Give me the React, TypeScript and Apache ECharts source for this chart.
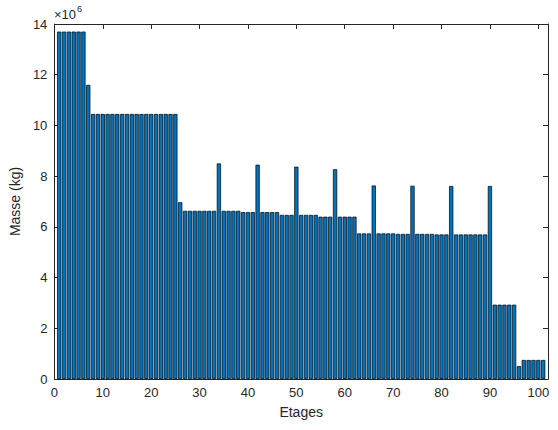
import React, { useEffect, useRef } from "react";
import * as echarts from "echarts";

// Etages (floors)
const floors = [
  1, 2, 3, 4, 5, 6, 7, 8, 9, 10, 11, 12, 13, 14, 15, 16, 17, 18, 19, 20,
  21, 22, 23, 24, 25, 26, 27, 28, 29, 30, 31, 32, 33, 34, 35, 36, 37, 38, 39, 40,
  41, 42, 43, 44, 45, 46, 47, 48, 49, 50, 51, 52, 53, 54, 55, 56, 57, 58, 59, 60,
  61, 62, 63, 64, 65, 66, 67, 68, 69, 70, 71, 72, 73, 74, 75, 76, 77, 78, 79, 80,
  81, 82, 83, 84, 85, 86, 87, 88, 89, 90, 91, 92, 93, 94, 95, 96, 97, 98, 99, 100,
  101,
];

// Masse (kg) per floor
const masses = [
  13.7e6, 13.7e6, 13.7e6, 13.7e6, 13.7e6, 13.7e6, // 1-6
  11.6e6, // 7
  10.45e6, 10.45e6, 10.45e6, 10.45e6, 10.45e6, 10.45e6, 10.45e6, 10.45e6, 10.45e6,
  10.45e6, 10.45e6, 10.45e6, 10.45e6, 10.45e6, 10.45e6, 10.45e6, 10.45e6, 10.45e6, // 8-25
  6.97e6, // 26
  6.63e6, 6.63e6, 6.63e6, 6.63e6, 6.63e6, 6.63e6, 6.63e6, // 27-33
  8.5e6, // 34
  6.63e6, 6.63e6, 6.63e6, 6.63e6, // 35-38
  6.58e6, 6.58e6, 6.58e6, // 39-41
  8.45e6, // 42
  6.58e6, 6.58e6, 6.58e6, 6.58e6, // 43-46
  6.47e6, 6.47e6, 6.47e6, // 47-49
  8.37e6, // 50
  6.47e6, 6.47e6, 6.47e6, 6.47e6, // 51-54
  6.4e6, 6.4e6, 6.4e6, // 55-57
  8.27e6, // 58
  6.4e6, 6.4e6, 6.4e6, 6.4e6, // 59-62
  5.74e6, 5.74e6, 5.74e6, // 63-65
  7.63e6, // 66
  5.74e6, 5.74e6, 5.74e6, 5.74e6, // 67-70
  5.72e6, 5.72e6, 5.72e6, // 71-73
  7.62e6, // 74
  5.72e6, 5.72e6, 5.72e6, 5.72e6, // 75-78
  5.7e6, 5.7e6, 5.7e6, // 79-81
  7.61e6, // 82
  5.7e6, 5.7e6, 5.7e6, 5.7e6, 5.7e6, 5.7e6, 5.7e6, // 83-89
  7.61e6, // 90
  2.93e6, 2.93e6, 2.93e6, 2.93e6, 2.93e6, // 91-95
  0.51e6, // 96
  0.75e6, 0.75e6, 0.75e6, 0.75e6, 0.75e6, // 97-101
];

const xLabel = "Etages";
const yLabel = "Masse (kg)";
const exponentBase = "×10";
const exponent = "6";

const AXIS = "#262626";
const FONT = "Liberation Sans, Arial, Helvetica, sans-serif";

export default function App() {
  const ref = useRef<HTMLDivElement>(null);

  useEffect(() => {
    if (!ref.current) return;
    const chart = echarts.init(ref.current, undefined, { renderer: "svg" });

    const boxAxisCommon = {
      axisLine: { show: true, onZero: false, lineStyle: { color: AXIS, width: 1 } },
      axisTick: { show: true, inside: true, length: 5, lineStyle: { color: AXIS, width: 1 } },
      splitLine: { show: false },
    };

    chart.setOption({
      animation: false,
      backgroundColor: "#ffffff",
      grid: { left: 53, right: 10, top: 24, bottom: 51 },
      xAxis: [
        {
          type: "value",
          min: 0,
          max: 102,
          interval: 10,
          position: "bottom",
          ...boxAxisCommon,
          axisLabel: {
            color: AXIS,
            fontSize: 13,
            fontFamily: FONT,
            margin: 7,
            showMaxLabel: false,
            formatter: (v: number) => (v <= 100 ? String(v) : ""),
          },
          name: xLabel,
          nameLocation: "middle",
          nameGap: 26,
          nameTextStyle: { color: AXIS, fontSize: 14, fontFamily: FONT },
        },
        {
          type: "value",
          min: 0,
          max: 102,
          interval: 10,
          position: "top",
          ...boxAxisCommon,
          axisLabel: { show: false },
        },
      ],
      yAxis: [
        {
          type: "value",
          min: 0,
          max: 14e6,
          interval: 2e6,
          position: "left",
          ...boxAxisCommon,
          axisLabel: {
            color: AXIS,
            fontSize: 13,
            fontFamily: FONT,
            margin: 7,
            formatter: (v: number) => String(Math.round(v / 1e6)),
          },
          name: yLabel,
          nameLocation: "middle",
          nameGap: 27,
          nameRotate: 90,
          nameTextStyle: { color: AXIS, fontSize: 14, fontFamily: FONT },
        },
        {
          type: "value",
          min: 0,
          max: 14e6,
          interval: 2e6,
          position: "right",
          ...boxAxisCommon,
          axisLabel: { show: false },
        },
      ],
      graphic: [
        {
          type: "text",
          left: 54,
          top: 8,
          style: { text: exponentBase, fill: AXIS, fontSize: 13, fontFamily: FONT },
        },
        {
          type: "text",
          left: 77,
          top: 4,
          style: { text: exponent, fill: AXIS, fontSize: 9, fontFamily: FONT },
        },
      ],
      series: [
        {
          type: "bar",
          xAxisIndex: 0,
          yAxisIndex: 0,
          barWidth: 4.2,
          data: floors.map((f, i) => [f, masses[i]]),
          itemStyle: { color: "#0072BD", borderColor: "#000000", borderWidth: 0.7 },
        },
      ],
    });

    return () => chart.dispose();
  }, []);

  return (
    <div
      ref={ref}
      style={{ position: "fixed", left: 0, top: 0, width: 558, height: 430 }}
    />
  );
}
